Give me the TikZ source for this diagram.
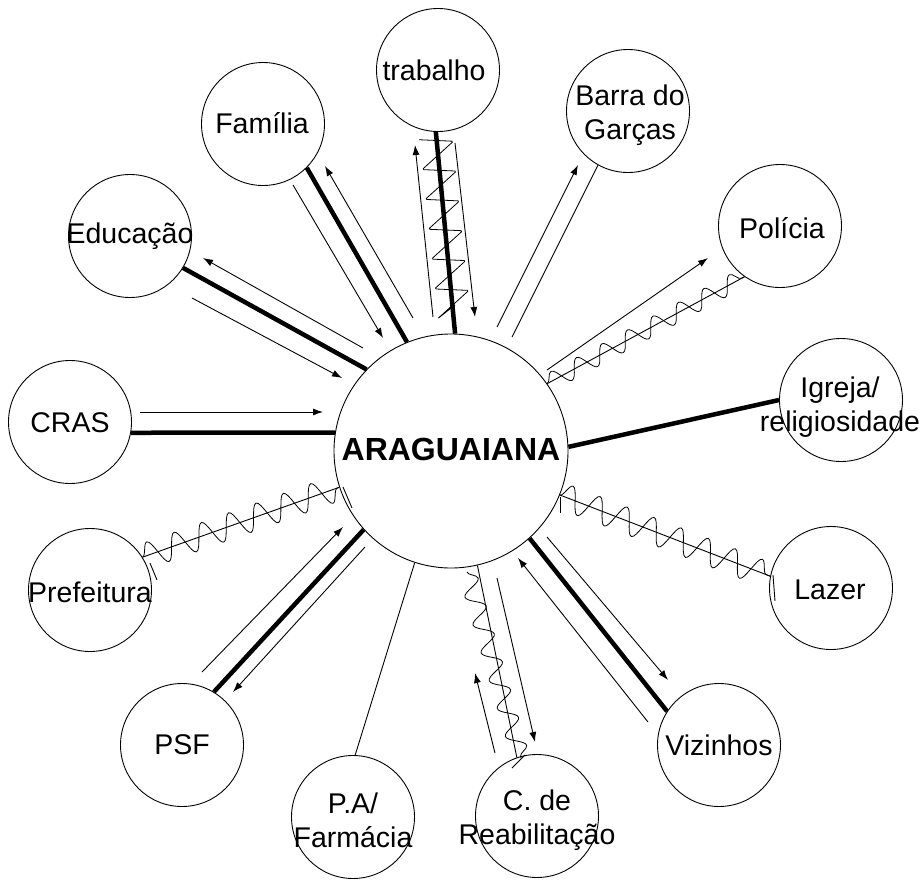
\documentclass[tikz,border=0pt]{standalone}
\usepackage{fontspec}
\setmainfont{Liberation Sans}
\usetikzlibrary{arrows.meta,decorations.pathmorphing,calc}
\begin{document}
\begin{tikzpicture}[x=1pt,y=-1pt,
  sat/.style={circle,draw,line width=0.9pt,minimum size=123pt,inner sep=0pt},
  hub/.style={circle,draw,line width=0.9pt,minimum size=234pt,inner sep=0pt},
  lbl/.style={align=center,font=\fontsize{28.5}{34}\selectfont,inner sep=0pt},
  hublbl/.style={font=\bfseries\fontsize{32}{38}\selectfont,inner sep=0pt},
  strong/.style={line width=4.5pt},
  weak/.style={line width=0.9pt},
  arr/.style={line width=0.9pt,-{Latex[length=10pt,width=7pt]}},
  wavy/.style={line width=0.8pt,decorate,decoration={snake,amplitude=#1,segment length=29pt}},
  wavy/.default=10pt
]
\useasboundingbox (0,0) rectangle (921,881);

% nodes
\node[hub] (ara) at (451,451) {};
\node[hublbl] (arat) at (451,449) {ARAGUAIANA};

\node[sat] (trab) at (438,70) {};
\node[sat] (fam) at (263,124) {};
\node[sat] (edu) at (130,236) {};
\node[sat] (cras) at (70,422) {};
\node[sat] (pref) at (90,590) {};
\node[sat] (psf) at (182,745) {};
\node[sat] (pa) at (353,817) {};
\node[sat] (reab) at (537,816) {};
\node[sat] (viz) at (719,745) {};
\node[sat] (laz) at (831,588) {};
\node[sat] (igr) at (841,400) {};
\node[sat] (pol) at (780,226) {};
\node[sat] (barra) at (628,111) {};

\node[lbl] (trabt) at (434,70) {trabalho};
\node[lbl] (famt) at (262,123) {Família};
\node[lbl] (edut) at (130,236) {Educação};
\node[lbl] (crast) at (70,423) {CRAS};
\node[lbl] (preft) at (90,592) {Prefeitura};
\node[lbl] (psft) at (182,745) {PSF};
\node[lbl] (pat) at (353,820) {P.A/\\Farmácia};
\node[lbl] (reabt) at (537,820) {C. de\\Reabilitação};
\node[lbl] (vizt) at (719,745) {Vizinhos};
\node[lbl] (lazt) at (830,590) {Lazer};
\node[lbl] (igrt) at (840,407) {Igreja/\\religiosidade};
\node[lbl] (polt) at (782,228) {Polícia};
\node[lbl] (barrat) at (630,115) {Barra do\\Garças};

% coordinates for free-standing thin arrows
\coordinate (tA1) at (433,317); \coordinate (tA2) at (415,145);
\coordinate (tB1) at (455,143); \coordinate (tB2) at (475,317);
\coordinate (tC1) at (436,138); \coordinate (tC2) at (455,322);
\coordinate (fA1) at (413,318); \coordinate (fA2) at (325,166);
\coordinate (fB1) at (293,185); \coordinate (fB2) at (383,338);
\coordinate (eA1) at (363,348); \coordinate (eA2) at (203,258);
\coordinate (eB1) at (192,298); \coordinate (eB2) at (342,378);
\coordinate (cA1) at (140,412); \coordinate (cA2) at (323,412);
\coordinate (bA1) at (497,327); \coordinate (bA2) at (578,165);
\coordinate (bB1) at (512,337);
\coordinate (pA1) at (547,370); \coordinate (pA2) at (708,258);
\coordinate (sA1) at (202,672); \coordinate (sA2) at (343,527);
\coordinate (sB1) at (365,547); \coordinate (sB2) at (233,692);
\coordinate (rA1) at (495,753); \coordinate (rA2) at (475,673);
\coordinate (rB1) at (497,578); \coordinate (rB2) at (535,742);
\coordinate (rW1) at (467,572); \coordinate (rW2) at (521,758);
\coordinate (vA1) at (648,722); \coordinate (vA2) at (518,558);
\coordinate (vB1) at (547,537); \coordinate (vB2) at (668,680);
% end ticks of the wavy links
\coordinate (k1a) at (150,563); \coordinate (k1b) at (157,580);
\coordinate (k2a) at (343,487); \coordinate (k2b) at (352,508);
\coordinate (k3a) at (560,497); \coordinate (k3b) at (560,513);
\coordinate (k4a) at (773,575); \coordinate (k4b) at (775,601);
\coordinate (k5a) at (512,768); \coordinate (k5b) at (525,755);

% trabalho
\draw[strong] (trab.-92.7) -- (ara.88.1);
\draw[arr] (tA1) -- (tA2);
\draw[arr] (tB1) -- (tB2);
\draw[weak,line width=0.8pt,rounded corners=1.5pt]
  ($(tC1)!17pt!-90:(tC2)$)
  foreach \k in {0,...,5} {
    -- ($($(tC1)!{(\k*30+5)/185}!(tC2)$)!17pt!90:(tC2)$)
    -- ($($(tC1)!{(\k*30+30)/185}!(tC2)$)!17pt!-90:(tC2)$)
  }
  -- ($($(tC1)!1!(tC2)$)!17pt!90:(tC2)$);
% Familia
\draw[strong] (fam.-45.7) -- (ara.112.1);
\draw[arr] (fA1) -- (fA2);
\draw[arr] (fB1) -- (fB2);
% Educacao
\draw[strong] (edu.-31.1) -- (ara.136.7);
\draw[arr] (eA1) -- (eA2);
\draw[arr] (eB1) -- (eB2);
% CRAS
\draw[strong] (cras.-10) -- (ara.171.3);
\draw[arr] (cA1) -- (cA2);
% Barra do Garcas
\draw[arr] (bA1) -- (bA2);
\draw[weak] (bB1) -- (barra.-119.9);
% Policia
\draw[weak] (ara.35.7) -- (pol.-125);
\draw[wavy=9pt] (ara.35.7) -- (pol.-125);
\draw[arr] (pA1) -- (pA2);
% Igreja
\draw[strong] (igr.180) -- (ara.2);
% Prefeitura
\draw[weak] (pref.32.4) -- (ara.-162.5);
\draw[wavy=13pt] (pref.32.4) -- (ara.-162.5);
\draw[weak] (k1a) -- (k1b);
\draw[weak] (k2a) -- (k2b);
% Lazer
\draw[weak] (ara.-22.9) -- (laz.169.4);
\draw[wavy=13pt] (ara.-22.9) -- (laz.169.4);
\draw[weak] (k3a) -- (k3b);
\draw[weak] (k4a) -- (k4b);
% PSF
\draw[strong] (psf.59.7) -- (ara.-138.8);
\draw[arr] (sA1) -- (sA2);
\draw[arr] (sB1) -- (sB2);
% P.A / Farmacia
\draw[weak] (ara.-108.6) -- (pa.88.2);
% Reabilitacao
\draw[weak] (ara.-77.5) -- (reab.109.7);
\draw[wavy=9pt] (rW1) -- (rW2);
\draw[weak] (k5a) -- (k5b);
\draw[arr] (rA1) -- (rA2);
\draw[arr] (rB1) -- (rB2);
% Vizinhos
\draw[strong] (viz.147.1) -- (ara.-48.9);
\draw[arr] (vA1) -- (vA2);
\draw[arr] (vB1) -- (vB2);
\end{tikzpicture}
\end{document}
